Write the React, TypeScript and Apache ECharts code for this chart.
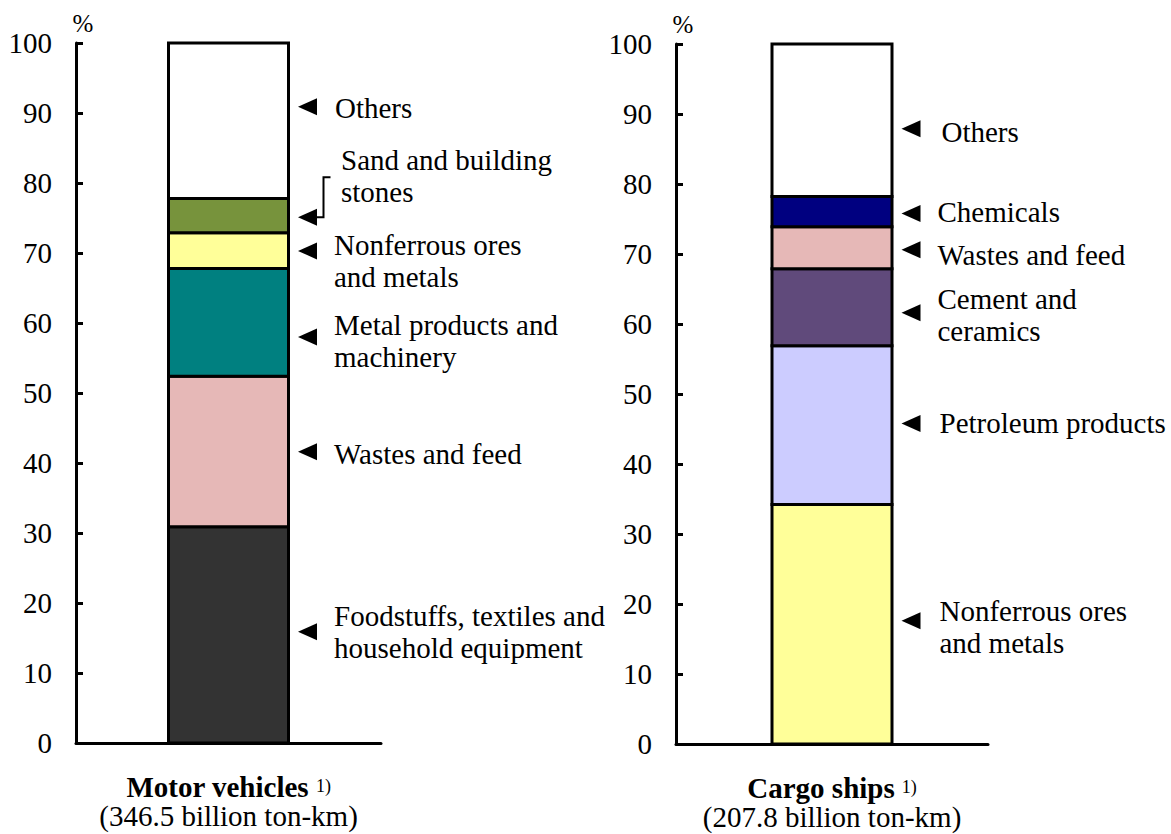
import React, { useEffect, useRef } from "react";
import * as echarts from "echarts";

// ---- data ----
const modeNames = ["Motor vehicles", "Cargo ships"];
const modeVolumes = ["346.5", "207.8"]; // billion ton-km

const motorCategories = [
  "Foodstuffs, textiles and household equipment",
  "Wastes and feed",
  "Metal products and machinery",
  "Nonferrous ores and metals",
  "Sand and building stones",
  "Others",
];
const motorShares = [30.9, 21.5, 15.4, 5.1, 4.9, 22.2];
const motorLabels = [
  "Foodstuffs, textiles and\nhousehold equipment",
  "Wastes and feed",
  "Metal products and\nmachinery",
  "Nonferrous ores\nand metals",
  "Sand and building\nstones",
  "Others",
];
const motorArrowAt = [15.9, 41.6, 58.0, 70.3, 75.1, 90.9];

const cargoCategories = [
  "Nonferrous ores and metals",
  "Petroleum products",
  "Cement and ceramics",
  "Wastes and feed",
  "Chemicals",
  "Others",
];
const cargoShares = [34.2, 22.7, 11.0, 6.0, 4.3, 21.8];
const cargoLabels = [
  "Nonferrous ores\nand metals",
  "Petroleum products",
  "Cement and\nceramics",
  "Wastes and feed",
  "Chemicals",
  "Others",
];
const cargoArrowAt = [17.6, 45.8, 61.6, 70.6, 75.8, 87.9];

// ---- styles ----
const motorColors = ["#333333", "#E6B8B7", "#008080", "#FFFF99", "#77933C", "#FFFFFF"];
const cargoColors = ["#FFFF99", "#CCCCFF", "#604A7B", "#E6B8B7", "#000080", "#FFFFFF"];
const motorLabelOffsets = [[0, 0], [0, 2], [0, 4], [0, 10], [7, -41], [1, 1]];
const cargoLabelOffsets = [[2, 6], [2, 0], [0, 2], [0, 5], [0, -1], [4, 3]];

const FONT = "Liberation Serif";
const BAR_W = 120;

const asRich = (text: string, token: string) =>
  text
    .split("\n")
    .map((l) => `{${token}|${l}}`)
    .join("\n");

export default function App() {
  const ref = useRef<HTMLDivElement>(null);
  useEffect(() => {
    if (!ref.current) return;
    const chart = echarts.init(ref.current, undefined, { renderer: "svg" });

    // stacked segments drawn as rectangles through the axes (api.coord)
    const stackSeries = (cats: string[], vals: number[], colors: string[], idx: number) => {
      let acc = 0;
      const data = vals.map((v, i) => {
        const item = { name: cats[i], value: [0, acc, acc + v] };
        acc += v;
        return item;
      });
      return {
        type: "custom",
        xAxisIndex: idx,
        yAxisIndex: idx,
        silent: true,
        data,
        encode: { x: 0, y: [1, 2] },
        renderItem: (params: any, api: any) => {
          const c = api.value(0);
          const lo = api.coord([c, api.value(1)]);
          const hi = api.coord([c, api.value(2)]);
          return {
            type: "rect",
            shape: { x: lo[0] - BAR_W / 2, y: hi[1], width: BAR_W, height: lo[1] - hi[1] },
            style: { fill: colors[params.dataIndex], stroke: "#000", lineWidth: 3 },
          };
        },
      };
    };

    const arrowSeries = (at: number[], labels: string[], offs: number[][], idx: number) => ({
      type: "scatter",
      xAxisIndex: idx,
      yAxisIndex: idx,
      symbol: "path://M0,5L10,0L10,10Z",
      symbolSize: [19, 17],
      symbolOffset: [79, 0],
      itemStyle: { color: "#000", opacity: 1 },
      silent: true,
      z: 5,
      data: at.map((v, i) => ({
        value: [0, v],
        label: { offset: offs[i] },
      })),
      label: {
        show: true,
        position: "right",
        distance: 17,
        formatter: (p: any) => asRich(labels[p.dataIndex], "t"),
        align: "left",
        rich: {
          t: { fontSize: 29, lineHeight: 32, color: "#000", fontFamily: FONT },
        },
      },
    });

    const option: any = {
      animation: false,
      backgroundColor: "#fff",
      textStyle: { fontFamily: FONT, color: "#000" },
      grid: [
        { left: 76, top: 43, width: 305, height: 700 },
        { left: 676, top: 44, width: 312, height: 700 },
      ],
      xAxis: [0, 1].map((i) => ({
        type: "category",
        gridIndex: i,
        data: [modeNames[i]],
        axisLine: { lineStyle: { color: "#000", width: 3 } },
        axisTick: { show: false },
        axisLabel: {
          interval: 0,
          margin: 29,
          color: "#000",
          fontFamily: FONT,
          formatter: (v: string) => `{b|${v}}{s|1)}\n{n|(${modeVolumes[i]} billion ton-km)}`,
          rich: {
            b: { fontSize: 29, fontWeight: "bold", lineHeight: 29, color: "#000", fontFamily: FONT },
            s: { fontSize: 18, lineHeight: 29, color: "#000", fontFamily: FONT, padding: [0, 0, 2, 7] },
            n: { fontSize: 29, lineHeight: 29, color: "#000", fontFamily: FONT },
          },
        },
      })),
      yAxis: [0, 1].map((i) => ({
        type: "value",
        gridIndex: i,
        min: 0,
        max: 100,
        interval: 10,
        name: "{p|%}",
        nameLocation: "end",
        nameGap: 7,
        nameTextStyle: {
          padding: [0, 0, 0, 14],
          rich: { p: { fontSize: 25, color: "#000", fontFamily: FONT } },
        },
        axisLine: { show: true, lineStyle: { color: "#000", width: 3 } },
        axisTick: { show: true, inside: true, length: 7, lineStyle: { color: "#000", width: 3 } },
        axisLabel: {
          margin: 24,
          formatter: (v: number) => `{y|${v}}`,
          rich: { y: { fontSize: 29, color: "#000", fontFamily: FONT } },
        },
        splitLine: { show: false },
      })),
      series: [
        stackSeries(motorCategories, motorShares, motorColors, 0),
        stackSeries(cargoCategories, cargoShares, cargoColors, 1),
        arrowSeries(motorArrowAt, motorLabels, motorLabelOffsets, 0),
        arrowSeries(cargoArrowAt, cargoLabels, cargoLabelOffsets, 1),
      ],
    };
    chart.setOption(option);

    // bent connector for "Sand and building stones"
    const p = chart.convertToPixel({ xAxisIndex: 0, yAxisIndex: 0 }, [0, motorArrowAt[4]]) as number[];
    if (p) {
      chart.setOption({
        graphic: [
          {
            type: "polyline",
            silent: true,
            shape: {
              points: [
                [p[0] + 88, p[1]],
                [p[0] + 95, p[1]],
                [p[0] + 95, p[1] - 40],
                [p[0] + 102, p[1] - 40],
              ],
            },
            style: { stroke: "#000", lineWidth: 2, fill: null },
          },
        ],
      });
    }

    return () => chart.dispose();
  }, []);

  return (
    <div
      ref={ref}
      style={{ position: "fixed", left: 0, top: 0, width: 1171, height: 834, background: "#fff" }}
    />
  );
}
